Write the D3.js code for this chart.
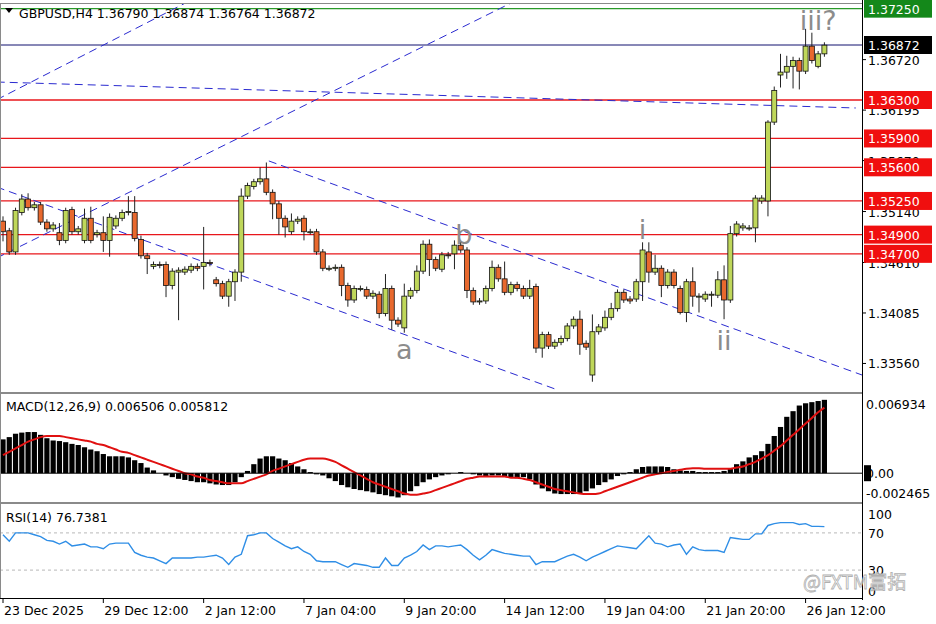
<!DOCTYPE html>
<html><head><meta charset="utf-8">
<script src="https://cdn.jsdelivr.net/npm/d3@7"></script>
<style>body{margin:0;background:#fff}svg{display:block;font-family:"DejaVu Sans",Tahoma,sans-serif}</style>
</head><body><svg id="c" width="936" height="624"></svg>
<script>
const opens=[1.3504,1.3494,1.3472,1.3513,1.3527,1.3518,1.3521,1.3503,1.3496,1.3492,
1.3484,1.3516,1.3493,1.3484,1.3507,1.3490,1.3492,1.3484,1.3499,1.3507,
1.3513,1.3513,1.3485,1.3468,1.3457,1.3459,1.3459,1.3437,1.3451,1.3451,
1.3453,1.3457,1.3457,1.3461,1.3443,1.3439,1.3426,1.3441,1.3451,1.3530,
1.3540,1.3545,1.3548,1.3534,1.3522,1.3507,1.3493,1.3504,1.3507,1.3493,
1.3493,1.3472,1.3455,1.3455,1.3456,1.3437,1.3422,1.3434,1.3433,1.3426,
1.3428,1.3408,1.3434,1.3401,1.3393,1.3426,1.3432,1.3452,1.3480,1.3464,
1.3454,1.3469,1.3470,1.3479,1.3474,1.3432,1.3420,1.3421,1.3434,1.3456,
1.3444,1.3430,1.3438,1.3434,1.3426,1.3436,1.3372,1.3386,1.3374,1.3378,
1.3382,1.3395,1.3402,1.3377,1.3344,1.3389,1.3393,1.3404,1.3413,1.3430,
1.3423,1.3423,1.3441,1.3472,1.3451,1.3455,1.3437,1.3451,1.3434,1.3409,
1.3441,1.3426,1.3423,1.3428,1.3427,1.3443,1.3422,1.3491,1.3497,1.3497,
1.3497,1.3525,1.3525,1.3607,1.3656,1.3659,1.3665,1.3671,1.3660,1.3686,
1.3665,1.3678];
const closes=[1.3493,1.3472,1.3515,1.3527,1.3518,1.3521,1.3503,1.3496,1.3500,1.3484,
1.3515,1.3493,1.3496,1.3507,1.3484,1.3492,1.3484,1.3508,1.3507,1.3513,
1.3514,1.3486,1.3468,1.3465,1.3459,1.3458,1.3437,1.3452,1.3453,1.3454,
1.3457,1.3455,1.3461,1.3460,1.3439,1.3426,1.3441,1.3451,1.3530,1.3541,
1.3545,1.3548,1.3534,1.3522,1.3507,1.3498,1.3504,1.3506,1.3493,1.3493,
1.3472,1.3455,1.3455,1.3456,1.3437,1.3422,1.3434,1.3434,1.3426,1.3429,
1.3408,1.3434,1.3401,1.3397,1.3426,1.3432,1.3452,1.3480,1.3464,1.3455,
1.3469,1.3468,1.3479,1.3474,1.3432,1.3420,1.3421,1.3434,1.3456,1.3444,
1.3430,1.3438,1.3434,1.3426,1.3434,1.3372,1.3386,1.3374,1.3378,1.3382,
1.3395,1.3402,1.3376,1.3373,1.3389,1.3394,1.3404,1.3413,1.3430,1.3422,
1.3421,1.3441,1.3474,1.3451,1.3455,1.3437,1.3451,1.3437,1.3409,1.3441,
1.3426,1.3426,1.3428,1.3428,1.3443,1.3422,1.3491,1.3501,1.3499,1.3497,
1.3528,1.3528,1.3607,1.3640,1.3659,1.3665,1.3671,1.3660,1.3686,1.3671,
1.3678,1.3687];
// wick lengths beyond the body, in pips
const upperWickPips=[5,3,3,5,6,3,3,3,3,10, 3,3,3,10,12,3,17,4,3,3, 16,17,4,3,3,3,3,3,3,3,
3,3,37,3,3,3,3,3,8,3, 3,12,17,3,3,3,8,3,3,3, 3,3,3,3,3,3,3,3,3,3, 3,15,3,3,13,3,6,4,5,3,
3,3,5,3,3,3,3,3,7,3, 18,3,3,3,9,3,3,3,3,3, 3,3,9,3,18,3,7,6,3,3, 3,3,8,10,14,3,3,3,3,3,
15,3,3,3,9,15,8,3,3,3, 3,3,2,4,19,11,4,3,18,14, 3,3];
const lowerWickPips=[10,3,3,3,3,3,3,3,3,5, 3,3,3,3,3,3,12,17,3,3, 3,3,3,16,3,3,12,4,50,3,
3,3,24,3,3,3,11,20,10,3, 3,3,3,16,17,11,3,3,9,3, 3,3,3,3,11,7,3,3,3,3, 5,3,10,3,5,3,3,3,17,3,
3,3,16,3,8,3,3,3,3,3, 3,3,3,3,3,5,10,3,3,3, 3,3,11,3,7,3,3,3,3,3, 3,3,20,11,3,12,3,3,2,10,
11,17,3,13,3,20,3,3,3,3, 15,3,16,3,13,7,23,19,3,3, 2,3];
// MACD histogram (x1e-4) and signal (x1e-4)
const macdMain=[30,32,35,36,36.5,36.5,34,31,29,28.5, 27.5,26,25,23,21,19.5,17,15,15,15,
14,11.5,9,5,2.5,0,-2,-3.5,-5,-6, -7,-8,-8,-9,-10,-10.5,-10.5,-8,-3.5,2, 8,13,15,15,13,11.5,9,6,3.5,1,
-1,-2,-4.5,-7,-10.5,-12.5,-14,-15,-16,-17, -18.5,-19.5,-20.5,-21.5,-19.5,-16,-11.5,-8,-5.5,-3.5,
-2,-1,0,1,0,-1,-2,-2.5,-2,-2, -2.5,-3.5,-4.5,-3.5,-5.5,-10,-13.5,-16,-18,-18.5,
-18.5,-18.5,-18,-16,-13.5,-10.5,-8,-5.5,-2.5,-1, 1,3.5,5.5,6,6,6,5.5,3.5,2.5,2,
2,1,1,1,1,2,4.5,8,10.5,14, 16,19.5,26,33,41,50,55,60,62,63, 64,65.06];
const macdSignal=[16,19,22,25,28,30,32,33,33,33, 32,31,30,29,28,26,25,23,21,19,
18,16,14,12,10,8,6,4,2,0, -1,-3,-4,-6,-7,-8,-9,-9,-9,-7, -5,-3,-1,2,4,6,8,10,12,13,
13,13,12,10,7,4,1,-2,-5,-8, -10,-12,-14,-16,-18,-19,-19,-18,-17,-15, -13,-11,-9,-7,-5,-4,-3,-3,-3,-3,
-3,-4,-4,-5,-6,-8,-10,-12,-14,-15, -16,-17,-18,-18.5,-18.5,-18,-16,-14,-12,-10,
-8,-6,-4,-2,-1,0,1,2,3,4, 4.5,4.5,4,4,4,4,4,5,6,8, 10,13,16,20,24,29,34,39,44,49,54,58.12];
const rsi=[68,61,70,70,70,68,66,62,61,58, 61,56,57,58,55,55,53,58,59,59,
59,49,46,44,43,40,37,43,43,43, 43,44,44,45,46,43,36,44,47,67, 68,70,70,64,60,56,53,55,50,47,
40,39,39,39,36,33,37,36,35,33, 33,43,35,35,43,46,50,57,52,56, 56,55,56,57,52,46,41,46,52,50,
48,47,46,45,45,36,39,39,39,42, 45,47,44,40,44,47,50,53,56,55, 54,53,60,67,59,58,55,57,58,47,
55,52,51,51,51,49,65,64,63,63, 69,69,78,80,81,81,81,79,80,77, 77,76.74];
const dateTickBars=[0,16,32,48,64,80,96,112,128];
const dateTickLabels=["23 Dec 2025","29 Dec 12:00","2 Jan 12:00","7 Jan 04:00","9 Jan 20:00","14 Jan 12:00","19 Jan 04:00","21 Jan 20:00","26 Jan 12:00"];
const priceTicks=[1.36720,1.36195,1.35670,1.35140,1.34610,1.34085,1.33560];
const redLevels=[1.3630,1.3590,1.3560,1.3525,1.3490,1.3470];
const greenLevel=1.3725, lastPrice=1.36872;
// trend lines: [bar1, price1, bar2, price2]
const trendLines=[[-1,1.36303,40,1.37673],[-1,1.34657,82,1.3734],[-1,1.36487,136,1.36217],
[-1,1.35395,88.5,1.33284],[42.4,1.35666,137,1.33440]];
const waveLabels=[["a",64,1.3361],["b",73.5,1.3480],["i",102,1.3485],["ii",115,1.3370],["iii?",130,1.3703]];

const svg=d3.select("#c");
const X0=0,X1=862;
const x=d3.scaleLinear().domain([0,131]).range([3,824.4]);
const y=d3.scaleLinear().domain([1.3734-0.000104*4,1.3734-0.000104*390]).range([4,390]);
const yM=d3.scaleLinear().domain([-0.002465,0.006934]).range([501,395]);
const yR=d3.scaleLinear().domain([0,100]).range([598,505]);

svg.append("defs").html('<clipPath id="pm"><rect x="0" y="4" width="862" height="387"/></clipPath><clipPath id="pa"><rect x="0" y="394" width="862" height="108"/></clipPath>');
const gm=svg.append("g").attr("clip-path","url(#pm)");

gm.selectAll(".rl").data(redLevels).enter().append("line").attr("x1",X0).attr("x2",X1)
 .attr("y1",d=>y(d)).attr("y2",d=>y(d)).attr("stroke","#e8161b").attr("stroke-width",1.3);
gm.append("line").attr("x1",X0).attr("x2",X1).attr("y1",y(greenLevel)).attr("y2",y(greenLevel)).attr("stroke","#2a9a2a").attr("stroke-width",1.3);
gm.append("line").attr("x1",X0).attr("x2",X1).attr("y1",y(lastPrice)).attr("y2",y(lastPrice)).attr("stroke","#10106e").attr("stroke-width",1);
gm.selectAll(".tl").data(trendLines).enter().append("line")
 .attr("x1",d=>x(d[0])).attr("y1",d=>y(d[1])).attr("x2",d=>x(d[2])).attr("y2",d=>y(d[3]))
 .attr("stroke","#2a2ad0").attr("stroke-width",1).attr("stroke-dasharray","8,5");
gm.selectAll(".wl").data(waveLabels).enter().append("text").attr("x",d=>x(d[1])).attr("y",d=>y(d[2]))
 .attr("text-anchor","middle").attr("font-size",27).attr("fill","#8c8c8c").text(d=>d[0]);
const bars=opens.map((o,i)=>{const c=closes[i];return{i,o,c,h:Math.max(o,c)+upperWickPips[i]*1e-4,l:Math.min(o,c)-lowerWickPips[i]*1e-4};});
gm.selectAll(".wk").data(bars).enter().append("line").attr("x1",d=>x(d.i)).attr("x2",d=>x(d.i))
 .attr("y1",d=>y(d.h)).attr("y2",d=>y(d.l)).attr("stroke","#222").attr("stroke-width",1);
gm.selectAll(".bd").data(bars).enter().append("rect").attr("x",d=>x(d.i)-2.5).attr("width",5)
 .attr("y",d=>y(Math.max(d.o,d.c))).attr("height",d=>Math.max(1,Math.abs(y(d.o)-y(d.c))))
 .attr("fill",d=>d.c>=d.o?"#bfd75a":"#e8692e").attr("stroke","#111").attr("stroke-width",0.8);

svg.append("path").attr("d","M5,8 L13,8 L9,13 Z").attr("fill","#000");
svg.append("text").attr("x",19).attr("y",18).attr("font-size",12.5).text("GBPUSD,H4  1.36790 1.36874 1.36764 1.36872");

const ga=svg.append("g").attr("clip-path","url(#pa)");
ga.selectAll(".mh").data(macdMain).enter().append("rect").attr("x",(d,i)=>x(i)-2.6).attr("width",5.2)
 .attr("y",d=>yM(Math.max(0,d*1e-4))).attr("height",d=>Math.abs(yM(d*1e-4)-yM(0))).attr("fill","#000");
svg.append("line").attr("x1",0).attr("x2",X1).attr("y1",yM(0)).attr("y2",yM(0)).attr("stroke","#000");
ga.append("path").datum(macdSignal).attr("fill","none").attr("stroke","#e01010").attr("stroke-width",2)
 .attr("d",d3.line().x((d,i)=>x(i)).y(d=>yM(d*1e-4)).curve(d3.curveMonotoneX));
svg.append("text").attr("x",6).attr("y",411).attr("font-size",12.5).text("MACD(12,26,9) 0.006506 0.005812");

[70,30].forEach(v=>svg.append("line").attr("x1",0).attr("x2",X1).attr("y1",yR(v)).attr("y2",yR(v)).attr("stroke","#b8b8b8").attr("stroke-dasharray","3,3"));
svg.append("path").datum(rsi).attr("fill","none").attr("stroke","#2f8ee6").attr("stroke-width",1.4)
 .attr("d",d3.line().x((d,i)=>x(i)).y(d=>yR(d)));
svg.append("text").attr("x",6).attr("y",522).attr("font-size",12.5).text("RSI(14) 76.7381");

[[0,3,862,392],[0,393,862,502],[0,503,862,598]].forEach(r=>svg.append("rect").attr("x",r[0]+0.5).attr("y",r[1]+0.5).attr("width",r[2]-r[0]).attr("height",r[3]-r[1]).attr("fill","none").attr("stroke","#8a8a8a"));
svg.append("line").attr("x1",862.5).attr("x2",862.5).attr("y1",0).attr("y2",600).attr("stroke","#000");
svg.append("line").attr("x1",0).attr("x2",862).attr("y1",598.5).attr("y2",598.5).attr("stroke","#000");

const ax=svg.append("g").attr("font-size",12.5);
priceTicks.forEach(p=>{ax.append("line").attr("x1",862).attr("x2",866).attr("y1",y(p)).attr("y2",y(p)).attr("stroke","#000");
 ax.append("text").attr("x",868).attr("y",y(p)+5).text(p.toFixed(5));});
function box(p,fill,tcol){const yy=y(p);ax.append("rect").attr("x",864).attr("y",yy-9).attr("width",68).attr("height",18).attr("fill",fill);
 ax.append("text").attr("x",868).attr("y",yy+5).attr("fill",tcol).text(p.toFixed(5));}
redLevels.forEach(p=>box(p,"#f00f0f","#fff"));
box(greenLevel,"#14881a","#fff");
box(lastPrice,"#000","#fff");
ax.append("text").attr("x",866).attr("y",yM(0.006934)+14).text("0.006934");
ax.append("rect").attr("x",864).attr("y",yM(0)-8).attr("width",7).attr("height",16).attr("fill","#000");
ax.append("text").attr("x",866).attr("y",yM(0)+5).text("0.00");
ax.append("text").attr("x",866).attr("y",yM(-0.002465)-3).text("-0.002465");
[100,70,30,0].forEach(v=>ax.append("text").attr("x",868).attr("y",Math.min(yR(v)+(v==100?14:5),596)).text(v));
dateTickBars.forEach((b,k)=>{svg.append("line").attr("x1",x(b)).attr("x2",x(b)).attr("y1",598).attr("y2",603).attr("stroke","#000");
 svg.append("text").attr("x",x(b)+1).attr("y",615).attr("font-size",12.5).text(dateTickLabels[k]);});
svg.append("text").attr("x",803).attr("y",589).attr("font-size",19).attr("fill","rgba(255,255,255,0.5)").attr("stroke","#b0b0b0").attr("stroke-width",0.8)
 .attr("font-family","'Noto Sans CJK SC',sans-serif").text("@FXTM富拓");
</script></body></html>
